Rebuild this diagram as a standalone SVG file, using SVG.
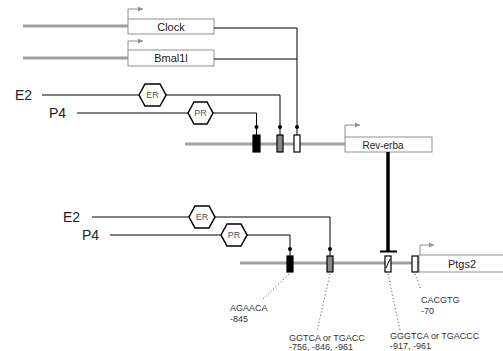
<svg xmlns="http://www.w3.org/2000/svg" width="503" height="351" viewBox="0 0 503 351">
<defs>
<style>
.gene{stroke:#a0a0a0;stroke-width:3;fill:none}
.box{fill:#fff;stroke:#909090;stroke-width:1}
.conn{stroke:#000;stroke-width:1;fill:none}
.prom{stroke:#909090;stroke-width:1;fill:none}
.hex{fill:#fff;stroke:#000;stroke-width:1.5}
.lab{font-family:"Liberation Sans",Arial,sans-serif;fill:#222}
.big{font-size:14px}
.gl{font-size:11px;text-anchor:middle}
.hl{font-size:9px;text-anchor:middle;fill:#555}
.sm{font-size:9px;fill:#333}
.dot{stroke:#444;stroke-width:1;stroke-dasharray:1 2.5;fill:none}
.el{stroke:#000;stroke-width:1.2}
</style>
<marker id="pa" markerWidth="6" markerHeight="6" refX="5" refY="3" orient="auto" markerUnits="userSpaceOnUse">
<path d="M0,0.5 L5,3 L0,5.5 Z" fill="#909090"/>
</marker>
</defs>
<rect width="503" height="351" fill="#fff"/>

<g id="clock">
<line class="gene" x1="23" y1="26" x2="128" y2="26"/>
<path class="prom" d="M128,19 V9 H143" marker-end="url(#pa)"/>
<rect class="box" x="128" y="19" width="86" height="15"/>
<text class="lab gl" x="171" y="31">Clock</text>
</g>

<g id="bmal1l">
<line class="gene" x1="23" y1="58" x2="128" y2="58"/>
<path class="prom" d="M128,50 V41 H143" marker-end="url(#pa)"/>
<rect class="box" x="128" y="50" width="86" height="16"/>
<text class="lab gl" x="171" y="62">Bmal1l</text>
</g>

<g id="reverba">
<line class="gene" x1="185" y1="144" x2="345" y2="144"/>
<path class="prom" d="M345,137 V125 H360" marker-end="url(#pa)"/>
<rect class="box" x="345" y="137" width="87" height="15"/>
<text class="lab gl" x="383" y="149" style="font-size:10px">Rev-erba</text>
<rect class="el" x="253" y="135" width="7" height="17" fill="#000"/>
<rect class="el" x="277" y="135" width="6" height="17" fill="#888"/>
<rect class="el" x="294" y="135" width="6" height="17" fill="#fff"/>
</g>

<g id="ptgs2">
<line class="gene" x1="240" y1="263" x2="419" y2="263"/>
<path class="prom" d="M420,255 V245 H434" marker-end="url(#pa)"/>
<rect class="box" x="419" y="255" width="90" height="17"/>
<text class="lab gl" x="462" y="268">Ptgs2</text>
<rect class="el" x="287" y="256" width="6" height="16" fill="#000"/>
<rect class="el" x="327" y="256" width="6" height="16" fill="#888"/>
<rect class="el" x="385" y="256" width="6" height="16" fill="#fff"/>
<line x1="386" y1="268" x2="390" y2="259" stroke="#000" stroke-width="1"/>
<rect class="el" x="412" y="256" width="6" height="16" fill="#fff"/>
</g>

<g id="er1">
<polygon class="hex" points="139,95 145,84 160,84 166,95 160,106 145,106"/>
<text class="lab hl" x="152.5" y="98">ER</text>
</g>
<g id="pr1">
<polygon class="hex" points="188,113 194,102 207,102 213,113 207,124 194,124"/>
<text class="lab hl" x="200.5" y="116">PR</text>
</g>
<g id="er2">
<polygon class="hex" points="189,217 195,206 209,206 215,217 209,228 195,228"/>
<text class="lab hl" x="202" y="220">ER</text>
</g>
<g id="pr2">
<polygon class="hex" points="221,235 227,224 241,224 247,235 241,246 227,246"/>
<text class="lab hl" x="234" y="238">PR</text>
</g>

<g id="labels">
<text class="lab big" x="15" y="100">E2</text>
<text class="lab big" x="49" y="118">P4</text>
<text class="lab big" x="63" y="222">E2</text>
<text class="lab big" x="82" y="240">P4</text>
<text class="lab sm" x="230" y="311">AGAACA</text>
<text class="lab sm" x="230" y="322">-845</text>
<text class="lab sm" x="289" y="341">GGTCA or TGACC</text>
<text class="lab sm" x="289" y="350">-756, -846, -961</text>
<text class="lab sm" x="390" y="339">GGGTCA or TGACCC</text>
<text class="lab sm" x="390" y="349">-917, -961</text>
<text class="lab sm" x="421" y="303">CACGTG</text>
<text class="lab sm" x="421" y="314">-70</text>
</g>

<g id="connectors">
<polyline class="conn" points="214,28 297,28 297,127"/>
<line class="conn" x1="214" y1="59" x2="297" y2="59"/>
<line class="conn" x1="297" y1="127" x2="297" y2="135"/>
<polyline class="conn" points="42,95 139,95"/>
<polyline class="conn" points="166,95 280,95 280,135"/>
<polyline class="conn" points="77,113 188,113"/>
<polyline class="conn" points="213,113 256.5,113 256.5,135"/>
<circle cx="256.5" cy="127" r="2" fill="#000"/>
<circle cx="280" cy="127" r="2" fill="#000"/>
<circle cx="297" cy="127" r="2" fill="#000"/>
<line x1="388" y1="152" x2="388" y2="251" stroke="#000" stroke-width="3.5"/>
<line x1="380" y1="251.5" x2="397" y2="251.5" stroke="#000" stroke-width="2"/>
<polyline class="conn" points="92,217 189,217"/>
<polyline class="conn" points="215,217 330,217 330,256"/>
<polyline class="conn" points="110,235 221,235"/>
<polyline class="conn" points="247,235 290,235 290,256"/>
<circle cx="290" cy="249" r="2" fill="#000"/>
<circle cx="330" cy="249" r="2" fill="#000"/>
<line class="dot" x1="289" y1="274" x2="262" y2="300"/>
<line class="dot" x1="330" y1="274" x2="317" y2="331"/>
<line class="dot" x1="388" y1="274" x2="400" y2="330"/>
<line class="dot" x1="415" y1="274" x2="421" y2="290"/>
</g>
</svg>
